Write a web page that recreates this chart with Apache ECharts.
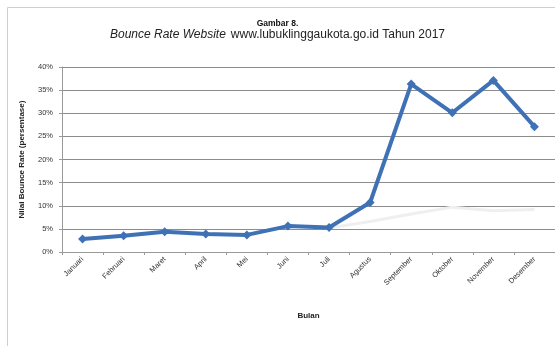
<!DOCTYPE html>
<html>
<head>
<meta charset="utf-8">
<script src="https://cdn.jsdelivr.net/npm/echarts@6/dist/echarts.min.js"></script>
<style>
  html, body { margin: 0; padding: 0; background: #fff; }
  #main { width: 555px; height: 346px; }
</style>
</head>
<body>
<div id="main"></div>
<script>
// data bulan dan bounce rate (persen)
var bulan = ['Januari', 'Februari', 'Maret', 'April', 'Mei', 'Juni', 'Juli', 'Agustus', 'September', 'Oktober', 'November', 'Desember'];
var bounceRate = [2.8, 3.5, 4.4, 3.9, 3.7, 5.6, 5.3, 10.7, 36.3, 30.1, 37.1, 27.1];
// garis samar di belakang
var garisSamar = [null, null, null, null, null, null, 5.2, 6.6, 8.2, 9.7, 8.9, 9.2];
var yTicks = [0, 5, 10, 15, 20, 25, 30, 35, 40];

var font = 'Liberation Sans';
var chart = echarts.init(document.getElementById('main'));

var option = {
    backgroundColor: '#fff',
    animation: false,
    title: {
        left: 'center',
        top: 13,
        text: '{b|Gambar 8.}\n{i|Bounce Rate Website} {n|www.lubuklinggaukota.go.id Tahun 2017}',
        textStyle: {
            fontFamily: font,
            fontWeight: 'normal',
            lineHeight: 11,
            rich: {
                b: { fontSize: 8.5, fontWeight: 'bold', color: '#111', fontFamily: font, lineHeight: 11 },
                i: { fontSize: 12, fontStyle: 'italic', fontWeight: 'normal', color: '#222', fontFamily: font, lineHeight: 11 },
                n: { fontSize: 12, fontWeight: 'normal', color: '#222', fontFamily: font, lineHeight: 11 }
            }
        }
    },
    graphic: [{
        type: 'rect',
        shape: { x: 7.5, y: 7.5, width: 560, height: 350 },
        style: { fill: 'none', stroke: '#cfcfcf', lineWidth: 1 },
        silent: true
    }],
    grid: { left: 62, top: 67, width: 496, height: 185 },
    xAxis: {
        type: 'category',
        data: bulan,
        boundaryGap: true,
        name: 'Bulan',
        nameLocation: 'middle',
        nameGap: 60,
        nameTextStyle: { fontSize: 8, fontWeight: 'bold', color: '#222', fontFamily: font },
        axisLine: { lineStyle: { color: '#999', width: 1 } },
        axisTick: { show: true, length: 3, lineStyle: { color: '#999' } },
        axisLabel: { interval: 0, rotate: 45, fontSize: 7.5, color: '#333', fontFamily: font, margin: 6 }
    },
    yAxis: {
        type: 'value',
        min: yTicks[0],
        max: yTicks[yTicks.length - 1],
        interval: 5,
        name: 'Nilai Bounce Rate (persentase)',
        nameLocation: 'middle',
        nameGap: 36,
        nameTextStyle: { fontSize: 8, fontWeight: 'bold', color: '#222', fontFamily: font },
        axisLine: { show: true, lineStyle: { color: '#999', width: 1 } },
        axisTick: { show: true, length: 3, lineStyle: { color: '#999' } },
        axisLabel: { formatter: '{value}%', fontSize: 7.5, color: '#333', fontFamily: font, margin: 9 },
        splitLine: { lineStyle: { color: '#8c8c8c', width: 1 } }
    },
    series: [
        {
            name: 'samar',
            type: 'line',
            data: garisSamar,
            symbol: 'none',
            lineStyle: { color: '#efefef', width: 3 },
            silent: true,
            z: 1
        },
        {
            name: 'Bounce Rate',
            type: 'line',
            data: bounceRate,
            symbol: 'diamond',
            symbolSize: 9,
            lineStyle: { color: '#3f71b5', width: 4 },
            itemStyle: { color: '#3f71b5' },
            z: 3
        }
    ]
};

chart.setOption(option);
</script>
</body>
</html>
